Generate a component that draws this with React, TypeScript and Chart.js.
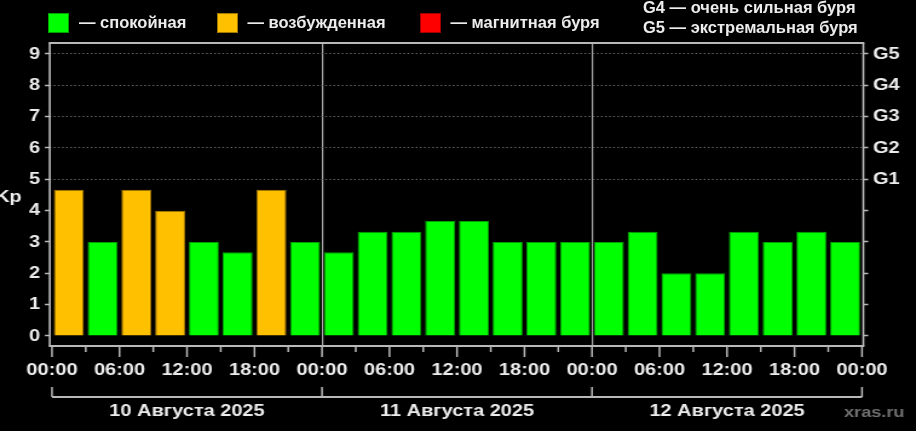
import React, { useEffect, useRef } from 'react';
import { Chart, registerables } from 'chart.js';

Chart.register(...registerables);

// ---------- data ----------
const slotMidHours = [1.5, 4.5, 7.5, 10.5, 13.5, 16.5, 19.5, 22.5, 25.5, 28.5, 31.5, 34.5, 37.5, 40.5, 43.5, 46.5, 49.5, 52.5, 55.5, 58.5, 61.5, 64.5, 67.5, 70.5];
const kpValues = [4.67, 3, 4.67, 4, 3, 2.67, 4.67, 3, 2.67, 3.33, 3.33, 3.67, 3.67, 3, 3, 3, 3, 3.33, 2, 2, 3.33, 3, 3.33, 3];

const tickHours = [0, 6, 12, 18, 24, 30, 36, 42, 48, 54, 60, 66, 72];
const tickLabels = ['00:00', '06:00', '12:00', '18:00', '00:00', '06:00', '12:00', '18:00', '00:00', '06:00', '12:00', '18:00', '00:00'];
const minorTickHours = [3, 9, 15, 21, 27, 33, 39, 45, 51, 57, 63, 69];

const dayLabels = ['10 Августа 2025', '11 Августа 2025', '12 Августа 2025'];
const dayCenterHours = [12, 36, 60];
const dayBoundaryHours = [0, 24, 48, 72];
const daySeparatorHours = [24, 48];

const kpTicks = [0, 1, 2, 3, 4, 5, 6, 7, 8, 9];
const gLevelKp = [5, 6, 7, 8, 9];
const gLevels = ['G1', 'G2', 'G3', 'G4', 'G5'];

const legendTexts = ['— спокойная', '— возбужденная', '— магнитная буря'];
const legendFills = ['#00ff00', '#ffc000', '#ff0000'];
const legendBorders = ['#00a000', '#a07800', '#a00000'];
const gLegendLines = ['G4 — очень сильная буря', 'G5 — экстремальная буря'];

// ---------- layout / style ----------
const SCREEN_W = 916;
const SCREEN_H = 431;
const CANVAS_W = 757;
const FONT_FAMILY = '"Liberation Sans", Arial, Helvetica, sans-serif';
const FONT_SIZE = 16.5;
const TEXT_COLOR = '#ececec';
const FRAME_COLOR = '#b8b8b8';

function barFill(v: number) {
  if (v >= 5) return legendFills[2];
  if (v >= 4) return legendFills[1];
  return legendFills[0];
}
function barBorder(v: number) {
  if (v >= 5) return legendBorders[2];
  if (v >= 4) return legendBorders[1];
  return legendBorders[0];
}

const decorPlugin = {
  id: 'decor',
  afterDraw(chart: any) {
    const { ctx, chartArea: a } = chart;
    const x = chart.scales.x;
    ctx.save();
    ctx.strokeStyle = FRAME_COLOR;
    // frame: horizontals
    ctx.lineWidth = 2;
    ctx.beginPath();
    ctx.moveTo(a.left - 0.8, a.top);
    ctx.lineTo(a.right + 0.8, a.top);
    ctx.moveTo(a.left - 0.8, a.bottom);
    ctx.lineTo(a.right + 0.8, a.bottom);
    ctx.stroke();
    // frame: verticals
    ctx.lineWidth = 1.65;
    ctx.beginPath();
    ctx.moveTo(a.left, a.top);
    ctx.lineTo(a.left, a.bottom);
    ctx.moveTo(a.right, a.top);
    ctx.lineTo(a.right, a.bottom);
    ctx.stroke();

    // x tick marks
    ctx.lineWidth = 1.5;
    ctx.beginPath();
    tickHours.forEach((h) => {
      const px = x.getPixelForValue(h);
      ctx.moveTo(px, a.bottom + 1);
      ctx.lineTo(px, a.bottom + 11);
    });
    minorTickHours.forEach((h) => {
      const px = x.getPixelForValue(h);
      ctx.moveTo(px, a.bottom + 1);
      ctx.lineTo(px, a.bottom + 6);
    });
    ctx.stroke();

    // day brackets
    const by = 397;
    ctx.lineWidth = 1.8;
    ctx.beginPath();
    ctx.moveTo(x.getPixelForValue(dayBoundaryHours[0]), by);
    ctx.lineTo(x.getPixelForValue(dayBoundaryHours[dayBoundaryHours.length - 1]), by);
    ctx.stroke();
    ctx.lineWidth = 1.5;
    ctx.beginPath();
    dayBoundaryHours.forEach((h) => {
      const px = x.getPixelForValue(h);
      ctx.moveTo(px, by - 10);
      ctx.lineTo(px, by);
    });
    ctx.stroke();

    // day labels
    ctx.fillStyle = TEXT_COLOR;
    ctx.font = `bold ${FONT_SIZE}px ${FONT_FAMILY}`;
    ctx.textAlign = 'center';
    ctx.textBaseline = 'alphabetic';
    dayLabels.forEach((t, i) => {
      ctx.fillText(t, x.getPixelForValue(dayCenterHours[i]), 415.5);
    });

    // Kp axis label
    ctx.textAlign = 'right';
    ctx.fillText('Kp', 17.9, 201.5);

    // watermark
    ctx.fillStyle = '#707070';
    ctx.font = `bold 15px ${FONT_FAMILY}`;
    ctx.textAlign = 'left';
    ctx.fillText('xras.ru', 697.5, 416.5);
    ctx.restore();
  },
};

export default function App() {
  const canvasRef = useRef<HTMLCanvasElement | null>(null);

  useEffect(() => {
    document.body.style.margin = '0';
    document.body.style.background = '#000';
    const canvas = canvasRef.current;
    if (!canvas) return;
    const font = { family: FONT_FAMILY, size: FONT_SIZE, weight: 'bold' as const };
    const chart = new Chart(canvas, {
      type: 'bar',
      data: {
        datasets: [
          {
            data: slotMidHours.map((h, i) => ({ x: h, y: kpValues[i] })),
            backgroundColor: kpValues.map(barFill),
            borderColor: kpValues.map(barBorder),
            borderWidth: 1,
            categoryPercentage: 1,
            barPercentage: 0.889,
            xAxisID: 'x',
            yAxisID: 'y',
          },
        ],
      },
      options: {
        animation: false,
        responsive: false,
        devicePixelRatio: 1,
        events: [],
        layout: { padding: { top: 43, left: 0, right: 0, bottom: 0 } },
        plugins: { legend: { display: false }, tooltip: { enabled: false } },
        scales: {
          x: {
            type: 'linear',
            offset: false,
            min: -0.2,
            max: 72.12,
            afterBuildTicks: (s: any) => {
              s.ticks = tickHours.map((v) => ({ value: v }));
            },
            afterFit: (s: any) => {
              s.height = SCREEN_H - 346;
            },
            ticks: {
              autoSkip: false,
              maxRotation: 0,
              minRotation: 0,
              color: TEXT_COLOR,
              font,
              padding: 14.5,
              callback: (v: any) => {
                const i = tickHours.indexOf(Number(v));
                return i >= 0 ? tickLabels[i] : '';
              },
            },
            grid: {
              offset: false,
              drawTicks: false,
              lineWidth: 1.2,
              color: (c: any) =>
                c.tick && daySeparatorHours.includes(c.tick.value) ? '#a8a8a8' : 'rgba(0,0,0,0)',
            },
            border: { display: false },
          },
          y: {
            type: 'linear',
            position: 'left',
            min: -0.32,
            max: 9.35,
            afterBuildTicks: (s: any) => {
              s.ticks = kpTicks.map((v) => ({ value: v }));
            },
            afterFit: (s: any) => {
              s.width = 41.1;
            },
            ticks: { color: TEXT_COLOR, font, padding: 4, callback: (v: any) => String(v) },
            grid: {
              tickLength: 4,
              tickWidth: 1.5,
              tickColor: FRAME_COLOR,
              lineWidth: 1,
              color: (c: any) => (c.tick && c.tick.value >= 5 ? '#6a6a6a' : 'rgba(0,0,0,0)'),
            },
            border: { display: false, dash: [1.4, 2] },
          },
          y2: {
            type: 'linear',
            position: 'right',
            min: -0.32,
            max: 9.35,
            afterBuildTicks: (s: any) => {
              s.ticks = kpTicks.map((v) => ({ value: v }));
            },
            afterFit: (s: any) => {
              s.width = CANVAS_W - 713.5;
            },
            ticks: {
              color: TEXT_COLOR,
              font,
              padding: 4,
              callback: (v: any) => {
                const i = gLevelKp.indexOf(Number(v));
                return i >= 0 ? gLevels[i] : '';
              },
            },
            grid: {
              drawOnChartArea: false,
              tickLength: 4,
              tickWidth: 1.5,
              tickColor: FRAME_COLOR,
            },
            border: { display: false },
          },
        },
      } as any,
      plugins: [decorPlugin],
    });
    return () => chart.destroy();
  }, []);

  const textStyle: React.CSSProperties = {
    position: 'absolute',
    fontFamily: FONT_FAMILY,
    fontWeight: 'bold',
    fontSize: `${FONT_SIZE}px`,
    lineHeight: '19px',
    color: TEXT_COLOR,
    whiteSpace: 'nowrap',
  };
  const boxLefts = [48, 217, 420];
  const textLefts = [79, 247.5, 450.5];

  return (
    <div
      style={{
        position: 'fixed',
        left: 0,
        top: 0,
        width: SCREEN_W,
        height: SCREEN_H,
        background: '#000',
        overflow: 'hidden',
      }}
    >
      <canvas
        ref={canvasRef}
        width={CANVAS_W}
        height={SCREEN_H}
        style={{ position: 'absolute', left: 0, top: 0, width: `${SCREEN_W}px`, height: `${SCREEN_H}px` }}
      />
      {legendTexts.map((t, i) => (
        <React.Fragment key={t}>
          <div
            style={{
              position: 'absolute',
              left: boxLefts[i],
              top: 13,
              width: 21,
              height: 20,
              boxSizing: 'border-box',
              background: legendFills[i],
              border: `1px solid ${legendBorders[i]}`,
            }}
          />
          <div style={{ ...textStyle, left: textLefts[i], top: 12.8 }}>{t}</div>
        </React.Fragment>
      ))}
      {gLegendLines.map((t, i) => (
        <div key={t} style={{ ...textStyle, left: 643, top: -2.2 + i * 20 }}>
          {t}
        </div>
      ))}
    </div>
  );
}
